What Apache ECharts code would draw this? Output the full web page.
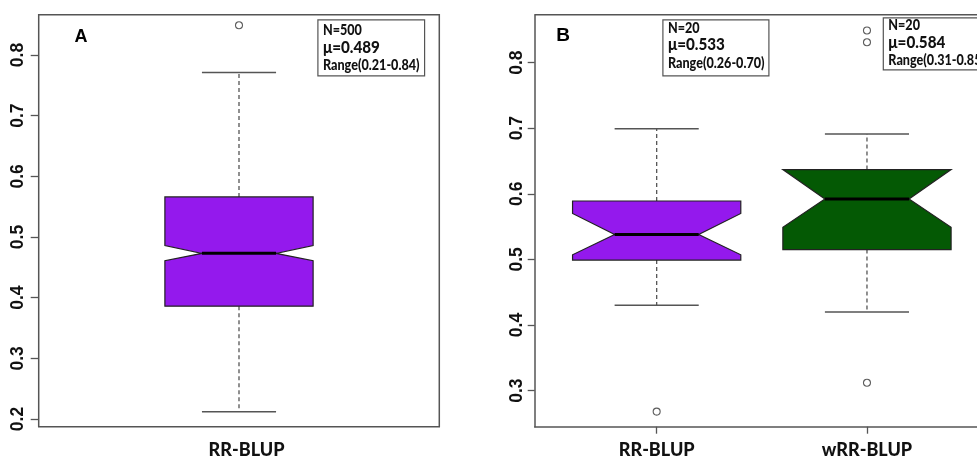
<!DOCTYPE html>
<html>
<head>
<meta charset="utf-8">
<script src="https://cdn.jsdelivr.net/npm/echarts@6/dist/echarts.min.js"></script>
<style>
html,body{margin:0;padding:0;background:#fff;}
#chart{width:977px;height:460px;}
</style>
</head>
<body>
<div id="chart"></div>
<script>
// ---------- data ----------
const categoriesA = ['RR-BLUP'];
const categoriesB = ['RR-BLUP', 'wRR-BLUP'];
// [x, lowerWhisker, Q1, notchLow, median, notchHigh, Q3, upperWhisker]
const boxA = [
  [1, 0.212, 0.386, 0.461, 0.473, 0.486, 0.566, 0.771]
];
const boxB = [
  [1, 0.430, 0.499, 0.507, 0.538, 0.570, 0.589, 0.699],
  [2, 0.420, 0.515, 0.549, 0.592, 0.637, 0.637, 0.691]
];
const outliersA = [[1, 0.849]];
const outliersB = [[1, 0.268], [2, 0.849], [2, 0.831], [2, 0.312]];
const yTicksA = [0.2, 0.3, 0.4, 0.5, 0.6, 0.7, 0.8];
const yTicksB = [0.3, 0.4, 0.5, 0.6, 0.7, 0.8];
const statsA = ['N=500', 'μ=0.489', 'Range(0.21-0.84)'];
const statsB1 = ['N=20', 'μ=0.533', 'Range(0.26-0.70)'];
const statsB2 = ['N=20', 'μ=0.584', 'Range(0.31-0.85)'];
const panelLabels = ['A', 'B'];
const boxColors = ['#9419ed', '#045904'];

// ---------- chart ----------
const FONT = 'Lato, "Open Sans", sans-serif';
const ARIAL = '"Liberation Sans", Arial, sans-serif';
const frame = '#555';

function makeRender(boxWidthUnits, colorFn) {
  return function (params, api) {
    const x = api.value(0);
    const lw = api.value(1), q1 = api.value(2), nl = api.value(3), med = api.value(4),
          nh = api.value(5), q3 = api.value(6), hw = api.value(7);
    const c = api.coord([x, med]);
    const cx = c[0];
    const half = api.size([boxWidthUnits, 0])[0] / 2;
    const y = v => api.coord([x, v])[1];
    const xl = cx - half, xr = cx + half, ql = cx - half / 2, qr = cx + half / 2;
    const pts = [
      [xl, y(q3)], [xr, y(q3)], [xr, y(nh)], [qr, y(med)], [xr, y(nl)], [xr, y(q1)],
      [xl, y(q1)], [xl, y(nl)], [ql, y(med)], [xl, y(nh)]
    ];
    const grey = '#555';
    return {
      type: 'group',
      children: [
        { type: 'line', shape: { x1: cx, y1: y(q3), x2: cx, y2: y(hw) },
          style: { stroke: grey, lineWidth: 1.3, lineDash: [4, 3] } },
        { type: 'line', shape: { x1: cx, y1: y(q1), x2: cx, y2: y(lw) },
          style: { stroke: grey, lineWidth: 1.3, lineDash: [4, 3] } },
        { type: 'line', shape: { x1: ql, y1: y(hw), x2: qr, y2: y(hw) },
          style: { stroke: grey, lineWidth: 1.5 } },
        { type: 'line', shape: { x1: ql, y1: y(lw), x2: qr, y2: y(lw) },
          style: { stroke: grey, lineWidth: 1.5 } },
        { type: 'polygon', shape: { points: pts },
          style: { fill: colorFn(params.dataIndex), stroke: '#222', lineWidth: 1.2 } },
        { type: 'line', shape: { x1: ql, y1: y(med), x2: qr, y2: y(med) },
          style: { stroke: '#000', lineWidth: 3 } }
      ]
    };
  };
}

function statText(txt, dy, size) {
  return { type: 'text', x: 5, y: dy, scaleX: 0.87,
    style: { text: txt, font: '900 ' + size + 'px ' + FONT, fill: '#111', verticalAlign: 'middle' } };
}
function statBox(x, y, w, h, lines, dy) {
  return {
    type: 'group', left: x, top: y,
    children: [
      { type: 'rect', shape: { x: 0, y: 0, width: w, height: h },
        style: { fill: '#fff', stroke: frame, lineWidth: 1.2 } },
      statText(lines[0], dy[0], 14.5),
      statText(lines[1], dy[1], 17.5),
      statText(lines[2], dy[2], 14.5)
    ]
  };
}

const chart = echarts.init(document.getElementById('chart'), null, { renderer: 'canvas' });

const yAxisCommon = (min, max, ticks, margin, tickLen, showLine) => ({
  type: 'value', min: min, max: max,
  splitLine: { show: false },
  axisLine: { show: showLine, lineStyle: { color: frame, width: 1.5 } },
  axisTick: { show: true, customValues: ticks, length: tickLen, lineStyle: { color: frame, width: 1.3 } },
  axisLabel: { customValues: ticks, rotate: 90, margin: margin, color: '#111',
    fontFamily: ARIAL, fontWeight: 'bold', fontSize: 17.5,
    formatter: v => v.toFixed(1) }
});

const gridBWidth = 977 - 534.7;

chart.setOption({
  animation: false,
  backgroundColor: '#fff',
  grid: [
    { left: 38.7, top: 14.7, width: 400.6, height: 412, show: true, borderColor: frame, borderWidth: 1.5, backgroundColor: 'transparent' },
    { left: 534.7, top: 14.7, width: gridBWidth, height: 412, show: false }
  ],
  xAxis: [
    { gridIndex: 0, type: 'value', min: 0.5, max: 1.5,
      splitLine: { show: false }, axisLine: { show: false }, axisTick: { show: false },
      axisLabel: { customValues: [1], margin: 14, padding: [0, 0, 0, 15], color: '#111', fontFamily: FONT, fontWeight: 900, fontSize: 18,
        formatter: v => categoriesA[Math.round(v) - 1] } },
    { gridIndex: 1, type: 'value', min: 0.42, max: 0.42 + gridBWidth / 210.3,
      splitLine: { show: false },
      axisLine: { show: true, onZero: false, lineStyle: { color: frame, width: 1.5 } },
      axisTick: { show: true, customValues: [1, 2], length: 7, lineStyle: { color: frame, width: 1.3 } },
      axisLabel: { customValues: [1, 2], margin: 14, color: '#111', fontFamily: FONT, fontWeight: 900, fontSize: 18,
        formatter: v => categoriesB[Math.round(v) - 1] } }
  ],
  yAxis: [
    Object.assign({ gridIndex: 0 }, yAxisCommon(0.1873, 0.8664, yTicksA, 12, 8, false)),
    Object.assign({ gridIndex: 1 }, yAxisCommon(0.245, 0.873, yTicksB, 9, 7, true))
  ],
  series: [
    { type: 'custom', xAxisIndex: 0, yAxisIndex: 0, data: boxA,
      encode: { x: 0, y: [1, 7] }, renderItem: makeRender(0.37, () => boxColors[0]), z: 2 },
    { type: 'custom', xAxisIndex: 1, yAxisIndex: 1, data: boxB,
      encode: { x: 0, y: [1, 7] }, renderItem: makeRender(0.8, i => boxColors[i]), z: 2 },
    { type: 'scatter', xAxisIndex: 0, yAxisIndex: 0, data: outliersA, symbol: 'circle', symbolSize: 7,
      itemStyle: { color: '#fff', borderColor: '#333', borderWidth: 1.1 }, z: 3 },
    { type: 'scatter', xAxisIndex: 1, yAxisIndex: 1, data: outliersB, symbol: 'circle', symbolSize: 7,
      itemStyle: { color: '#fff', borderColor: '#333', borderWidth: 1.1 }, z: 3 }
  ],
  graphic: [
    { type: 'line', shape: { x1: 534.7, y1: 14.7, x2: 977, y2: 14.7 }, style: { stroke: frame, lineWidth: 1.5 } },
    { type: 'text', x: 81, y: 36.7, style: { text: panelLabels[0], font: 'bold 18px ' + ARIAL, fill: '#000', align: 'center', verticalAlign: 'middle' } },
    { type: 'text', x: 563, y: 35.5, style: { text: panelLabels[1], font: 'bold 19px ' + ARIAL, fill: '#000', align: 'center', verticalAlign: 'middle' } },
    statBox(317.3, 19.3, 106.7, 56, statsA, [10, 27.5, 45.5]),
    statBox(662.3, 19.3, 106, 56, statsB1, [8, 24.5, 43.5]),
    statBox(882.7, 17.3, 130, 52, statsB2, [7.7, 24.4, 42.7])
  ]
});
</script>
</body>
</html>
